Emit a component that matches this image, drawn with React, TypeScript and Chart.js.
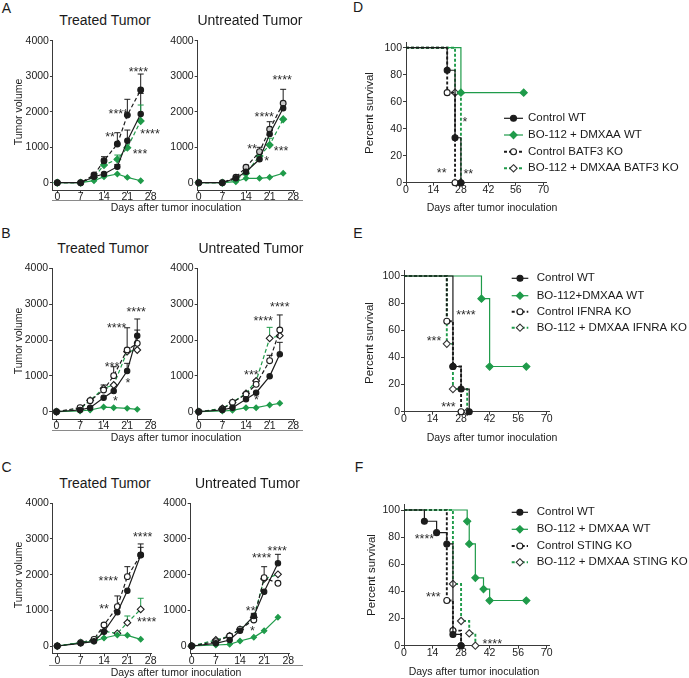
import React, { useEffect, useRef } from 'react';
import { Chart, registerables } from 'chart.js';

Chart.register(...registerables);

const FONT = '"Liberation Sans", Arial, Helvetica, sans-serif';
Chart.defaults.font.family = FONT;
Chart.defaults.color = '#222222';

const INK = '#1c1c1c';
const GREEN = '#1f9b4a';
const AXIS = '#3a3a3a';
const TICK_FONT = 10.5;

// ---------- tick labels ----------
const tumorXTicks = [0, 7, 14, 21, 28];
const tumorYTicks = [0, 1000, 2000, 3000, 4000];
const survXTicks = [0, 14, 28, 42, 56, 70];
const survYTicks = [0, 20, 40, 60, 80, 100];

// ---------- tumor growth (days after inoculation) ----------
const daysAC = [0, 7, 11, 14, 18, 21, 25];
const daysB = [0, 7, 10, 14, 17, 21, 24];

// A – treated tumor
const aTrCtrlWT = [0, 0, 169, 245, 451, 1183, 1935];
const aTrCtrlWTErr = [0, 0, 0, 0, 60, 300, 580];
const aTrBoWT = [0, 0, 56, 169, 245, 150, 56];
const aTrCtrlKO = [0, 0, 217, 620, 1090, 1904, 2611];
const aTrCtrlKOErr = [0, 0, 0, 112, 318, 445, 450];
const aTrBoKO = [0, 0, 150, 499, 659, 986, 1738];
const aTrBoKOErr = [0, 0, 0, 0, 120, 0, 450];
// A – untreated tumor
const aUnCtrlWT = [0, 0, 124, 310, 659, 1372, 2096];
const aUnBoWT = [0, 0, 28, 124, 124, 152, 265];
const aUnCtrlKO = [0, 0, 152, 434, 873, 1504, 2237];
const aUnCtrlKOErr = [0, 0, 0, 0, 124, 214, 394];
const aUnBoKO = [0, 0, 96, 265, 752, 1062, 1786];
const aUnBoKOErr = [0, 0, 0, 0, 0, 190, 0];
// B – treated tumor
const bTrCtrlWT = [0, 47, 112, 391, 577, 1135, 2121];
const bTrCtrlWTErr = [0, 0, 0, 0, 0, 214, 465];
const bTrBoWT = [0, 19, 47, 130, 112, 93, 65];
const bTrCtrlKO = [0, 112, 307, 605, 1005, 1721, 1907];
const bTrCtrlKOErr = [0, 0, 0, 140, 250, 620, 370];
const bTrBoKO = [0, 74, 316, 651, 744, 1674, 1721];
// B – untreated tumor
const bUnCtrlWT = [0, 47, 112, 344, 530, 986, 1600];
const bUnCtrlWTErr = [0, 0, 0, 0, 0, 0, 335];
const bUnBoWT = [0, 19, 37, 112, 112, 186, 233];
const bUnCtrlKO = [0, 74, 260, 484, 763, 1423, 2279];
const bUnCtrlKOErr = [0, 0, 0, 0, 120, 150, 420];
const bUnBoKO = [0, 93, 260, 512, 856, 2047, 2121];
const bUnBoKOErr = [0, 0, 0, 0, 0, 306, 0];
// C – treated tumor
const cTrCtrlWT = [0, 75, 131, 402, 944, 1551, 2551];
const cTrCtrlWTErr = [0, 0, 0, 0, 0, 0, 310];
const cTrBoWT = [0, 93, 131, 224, 308, 299, 187];
const cTrCtrlKO = [0, 93, 187, 589, 1103, 1944, 2551];
const cTrCtrlKOErr = [0, 0, 0, 0, 300, 280, 215];
const cTrBoKO = [0, 93, 168, 411, 355, 654, 1028];
const cTrBoKOErr = [0, 0, 0, 0, 0, 187, 310];
// C – untreated tumor
const cUnCtrlWT = [0, 75, 168, 430, 841, 1522, 2317];
const cUnCtrlWTErr = [0, 0, 0, 0, 75, 0, 253];
const cUnBoWT = [0, 28, 47, 140, 243, 430, 804];
const cUnCtrlKO = [0, 121, 280, 467, 729, 1915, 1757];
const cUnCtrlKOErr = [0, 0, 0, 0, 0, 308, 0];
const cUnBoKO = [0, 168, 280, 467, 804, 1880, 2009];

// significance marks [day, value, label]
type Star = [number, number, string];
const aTrStars: Star[] = [[24.3, 3200, '****'], [18.3, 2030, '****'], [15.8, 1370, '**'], [27.8, 1465, '****'], [24.8, 900, '***']];
const aUnStars: Star[] = [[24.7, 2990, '****'], [19.4, 1930, '****'], [15.8, 1040, '**'], [20.1, 690, '*'], [24.4, 970, '***']];
const bTrStars: Star[] = [[23.7, 2880, '****'], [17.9, 2420, '****'], [16.5, 1350, '***'], [21.2, 900, '*'], [17.5, 390, '*']];
const bUnStars: Star[] = [[24.0, 3010, '****'], [19.1, 2620, '****'], [15.6, 1120, '***'], [17.1, 420, '*']];
const cTrStars: Star[] = [[25.6, 3140, '****'], [15.3, 1900, '****'], [14.0, 1130, '**'], [26.8, 760, '****']];
const cUnStars: Star[] = [[24.8, 2740, '****'], [20.3, 2550, '****'], [17.1, 1080, '**'], [17.6, 500, '*']];

// ---------- survival ----------
const dCtrlWTDays = [0, 21, 25, 28];
const dCtrlWTSurv = [100, 83.3, 33.3, 0];
const dBoWTDays = [0, 28, 60];
const dBoWTSurv = [100, 66.7, 66.7];
const dCtrlKODays = [0, 21, 25];
const dCtrlKOSurv = [100, 66.7, 0];
const dBoKODays = [0, 25, 28];
const dBoKOSurv = [100, 66.7, 0];
const dStars: Star[] = [[30.1, 47.7, '*'], [18.2, 9.4, '**'], [31.8, 8.6, '**']];
const dLegend = ['Control WT', 'BO-112 + DMXAA WT', 'Control BATF3 KO', 'BO-112 + DMXAA BATF3 KO'];

const eCtrlWTDays = [0, 24, 28, 32];
const eCtrlWTSurv = [100, 33.3, 16.7, 0];
const eBoWTDays = [0, 38, 42, 60];
const eBoWTSurv = [100, 83.3, 33.3, 33.3];
const eCtrlKODays = [0, 21, 24, 28];
const eCtrlKOSurv = [100, 66.7, 33.3, 0];
const eBoKODays = [0, 21, 24, 31];
const eBoKOSurv = [100, 50, 16.7, 0];
const eStars: Star[] = [[30.4, 73.7, '****'], [14.7, 54.8, '***'], [21.8, 5.7, '***']];
const eLegend = ['Control WT', 'BO-112+DMXAA WT', 'Control IFNRA KO', 'BO-112 + DMXAA IFNRA KO'];

const fCtrlWTDays = [0, 10, 16, 21, 24, 28];
const fCtrlWTSurv = [100, 91.7, 83.3, 75, 8.3, 0];
const fBoWTDays = [0, 31, 32, 35, 39, 42, 60];
const fBoWTSurv = [100, 91.7, 75, 50, 41.7, 33.3, 33.3];
const fCtrlKODays = [0, 21, 24, 28];
const fCtrlKOSurv = [100, 33.3, 11.1, 0];
const fBoKODays = [0, 24, 28, 32, 35];
const fBoKOSurv = [100, 45.5, 18.2, 9.1, 0];
const fStars: Star[] = [[10, 81, '****'], [14.4, 38, '***'], [43.3, 3.4, '****']];
const fLegend = ['Control WT', 'BO-112 + DMXAA WT', 'Control STING KO', 'BO-112 + DMXAA STING KO'];

// ---------- styles ----------
type Kind = 'ctrlWT' | 'boWT' | 'ctrlKO' | 'boKO';
const KINDS: Kind[] = ['ctrlWT', 'boWT', 'ctrlKO', 'boKO'];

const TSTYLE: Record<Kind, any> = {
  ctrlWT: { color: INK, dash: [], marker: 'circle', r: 2.7, edge: INK },
  boWT: { color: GREEN, dash: [], marker: 'rectRot', r: 2.7, edge: GREEN },
  ctrlKO: { color: INK, dash: [4, 2.5], marker: 'circle', r: 2.9, edge: INK },
  boKO: { color: GREEN, dash: [4, 2.5], marker: 'rectRot', r: 3.4, edge: INK },
};

const SSTYLE: Record<Kind, any> = {
  ctrlWT: { color: INK, dash: [], width: 1.2, marker: 'circle', r: 3, open: false, edge: INK },
  boWT: { color: GREEN, dash: [], width: 1.2, marker: 'rectRot', r: 3.6, open: false, edge: GREEN },
  ctrlKO: { color: INK, dash: [3, 2], width: 1.9, marker: 'circle', r: 3, open: true, edge: INK },
  boKO: { color: GREEN, dash: [3, 2], width: 1.9, marker: 'rectRot', r: 3.6, open: true, edge: '#333' },
};

function tumorSet(days: number[], vals: number[], kind: Kind, errs?: number[], fill?: string) {
  const st = TSTYLE[kind];
  const edge = fill && fill !== '#ffffff' ? st.color : st.edge;
  return {
    data: days.map((d, i) => ({ x: d, y: vals[i] })),
    errors: errs,
    borderColor: st.color,
    borderWidth: 1.2,
    borderDash: st.dash,
    pointStyle: st.marker,
    pointRadius: st.r,
    pointBackgroundColor: fill ?? st.color,
    pointBorderColor: edge,
    pointBorderWidth: 1.1,
    fill: false,
    tension: 0,
    clip: false,
  };
}

function survSet(days: number[], surv: number[], kind: Kind) {
  const st = SSTYLE[kind];
  return {
    data: days.map((d, i) => ({ x: d, y: surv[i] })),
    stepped: 'before',
    borderColor: st.color,
    borderWidth: st.width,
    borderDash: st.dash,
    pointStyle: st.marker,
    pointRadius: days.map((_, i) => (i === 0 ? 0 : st.r)),
    pointBackgroundColor: st.open ? '#ffffff' : st.color,
    pointBorderColor: st.edge,
    pointBorderWidth: 1.1,
    fill: false,
    clip: false,
  };
}

// ---------- plugins ----------
const errorBarPlugin = {
  id: 'errorBars',
  beforeDatasetsDraw(chart: any) {
    const ctx = chart.ctx;
    const ys = chart.scales.y;
    chart.data.datasets.forEach((ds: any, i: number) => {
      const errs: number[] | undefined = ds.errors;
      if (!errs) return;
      const meta = chart.getDatasetMeta(i);
      ctx.save();
      ctx.strokeStyle = ds.borderColor;
      ctx.lineWidth = 1;
      ctx.setLineDash([]);
      meta.data.forEach((pt: any, j: number) => {
        const e = errs[j];
        if (!e) return;
        const top = ys.getPixelForValue(ds.data[j].y + e);
        ctx.beginPath();
        ctx.moveTo(pt.x, pt.y);
        ctx.lineTo(pt.x, top);
        ctx.moveTo(pt.x - 3, top);
        ctx.lineTo(pt.x + 3, top);
        ctx.stroke();
      });
      ctx.restore();
    });
  },
};

function starsPlugin(stars: Star[]) {
  return {
    id: 'stars',
    afterDatasetsDraw(chart: any) {
      const { ctx, scales } = chart;
      ctx.save();
      ctx.fillStyle = '#2a2a2a';
      ctx.font = `12.5px ${FONT}`;
      ctx.textAlign = 'center';
      ctx.textBaseline = 'alphabetic';
      stars.forEach(([x, y, s]) => {
        ctx.fillText(s, scales.x.getPixelForValue(x), scales.y.getPixelForValue(y) + 7.2);
      });
      ctx.restore();
    },
  };
}

function drawMarker(ctx: CanvasRenderingContext2D, marker: string, x: number, y: number, r: number, fill: string, edge: string) {
  ctx.beginPath();
  if (marker === 'circle') {
    ctx.arc(x, y, r, 0, Math.PI * 2);
  } else {
    ctx.moveTo(x, y - r);
    ctx.lineTo(x + r, y);
    ctx.lineTo(x, y + r);
    ctx.lineTo(x - r, y);
    ctx.closePath();
  }
  ctx.fillStyle = fill;
  ctx.fill();
  ctx.lineWidth = 1.1;
  ctx.strokeStyle = edge;
  ctx.stroke();
}

type Frame = { cx: number; cy: number; cw: number; ch: number; yW: number; xH: number; padT: number; padR: number };

function legendPlugin(labels: string[], fr: Frame, sx1: number, sx2: number, tx: number, ys: number[]) {
  return {
    id: 'survLegend',
    afterDraw(chart: any) {
      const ctx: CanvasRenderingContext2D = chart.ctx;
      labels.forEach((label, i) => {
        const st = SSTYLE[KINDS[i]];
        const y = ys[i] - fr.cy;
        const a = sx1 - fr.cx;
        const b = sx2 - fr.cx;
        ctx.save();
        ctx.strokeStyle = st.color;
        ctx.lineWidth = st.width;
        ctx.setLineDash(st.dash);
        ctx.beginPath();
        ctx.moveTo(a, y);
        ctx.lineTo(b, y);
        ctx.stroke();
        ctx.setLineDash([]);
        drawMarker(ctx, st.marker, (a + b) / 2, y, st.r, st.open ? '#ffffff' : st.color, st.edge);
        ctx.fillStyle = '#1a1a1a';
        ctx.font = `11.5px ${FONT}`;
        ctx.textAlign = 'left';
        ctx.textBaseline = 'middle';
        ctx.fillText(label, tx - fr.cx, y);
        ctx.restore();
      });
    },
  };
}

// ---------- geometry ----------
function makeFrame(l: number, r: number, t: number, b: number, yW0: number, xH0: number, padT0: number, padR0: number): Frame {
  const cx = Math.floor(l - yW0);
  const cy = Math.floor(t - padT0);
  const cw = Math.ceil(r + padR0 - cx);
  const ch = Math.ceil(b + xH0 - cy);
  return { cx, cy, cw, ch, yW: l - cx, padT: t - cy, padR: cx + cw - r, xH: cy + ch - b };
}

function axisOptions(fr: Frame, xMin: number, xMax: number, yMin: number, yMax: number, xTicks: number[], yTicks: number[]) {
  const tickFont = { size: TICK_FONT, family: FONT };
  return {
    x: {
      type: 'linear',
      min: xMin,
      max: xMax,
      afterBuildTicks: (s: any) => { s.ticks = xTicks.map((v) => ({ value: v })); },
      afterFit: (s: any) => { s.height = fr.xH; },
      grid: { display: true, drawOnChartArea: false, drawTicks: true, tickLength: 3, color: AXIS, lineWidth: 1 },
      border: { display: true, color: AXIS, width: 1 },
      ticks: { padding: -2, color: '#222', font: tickFont, maxRotation: 0, autoSkip: false, callback: (v: any) => String(v) },
    },
    y: {
      type: 'linear',
      min: yMin,
      max: yMax,
      afterBuildTicks: (s: any) => { s.ticks = yTicks.map((v) => ({ value: v })); },
      afterFit: (s: any) => { s.width = fr.yW; },
      grid: { display: true, drawOnChartArea: false, drawTicks: true, tickLength: 3, color: AXIS, lineWidth: 1 },
      border: { display: true, color: AXIS, width: 1 },
      ticks: { padding: 1, color: '#222', font: tickFont, autoSkip: false, callback: (v: any) => String(v) },
    },
  };
}

type Spec = { key: string; fr: Frame; make: () => any };

function tumorSpec(key: string, x0: number, x28: number, y0: number, y4k: number, xMin: number, datasets: () => any[], stars: Star[]): Spec {
  const xMax = 28.3;
  const yMin = -210;
  const yMax = 4000;
  const kx = (x28 - x0) / 28;
  const ky = (y0 - y4k) / 4000;
  const fr = makeFrame(x0 + xMin * kx, x0 + xMax * kx, y0 - yMax * ky, y0 - yMin * ky, 40, 20, 10, 16);
  return {
    key,
    fr,
    make: () => ({
      type: 'line',
      data: { datasets: datasets() },
      options: {
        responsive: false,
        animation: false,
        events: [],
        layout: { padding: { top: fr.padT, right: fr.padR, left: 0, bottom: 0 } },
        plugins: { legend: { display: false }, tooltip: { enabled: false } },
        scales: axisOptions(fr, xMin, xMax, yMin, yMax, tumorXTicks, tumorYTicks),
      },
      plugins: [errorBarPlugin, starsPlugin(stars)],
    }),
  };
}

function survSpec(key: string, x0: number, x70: number, y0: number, y100: number, datasets: () => any[], stars: Star[], labels: string[], lx1: number, lx2: number, ltx: number, lys: number[]): Spec {
  const xMax = 71.5;
  const yMax = 104;
  const kx = (x70 - x0) / 70;
  const ky = (y0 - y100) / 100;
  const r = x0 + xMax * kx;
  const fr = makeFrame(x0, r, y0 - yMax * ky, y0, 35, 20, 10, 689 - r);
  return {
    key,
    fr,
    make: () => ({
      type: 'line',
      data: { datasets: datasets() },
      options: {
        responsive: false,
        animation: false,
        events: [],
        layout: { padding: { top: fr.padT, right: fr.padR, left: 0, bottom: 0 } },
        plugins: { legend: { display: false }, tooltip: { enabled: false } },
        scales: axisOptions(fr, 0, xMax, 0, yMax, survXTicks, survYTicks),
      },
      plugins: [starsPlugin(stars), legendPlugin(labels, fr, lx1, lx2, ltx, lys)],
    }),
  };
}

const WHITE = '#ffffff';

const specs: Spec[] = [
  tumorSpec('aTr', 57.3, 150.7, 182.7, 40.7, -1.3, () => [
    tumorSet(daysAC, aTrCtrlWT, 'ctrlWT', aTrCtrlWTErr),
    tumorSet(daysAC, aTrBoWT, 'boWT'),
    tumorSet(daysAC, aTrCtrlKO, 'ctrlKO', aTrCtrlKOErr, INK),
    tumorSet(daysAC, aTrBoKO, 'boKO', aTrBoKOErr, GREEN),
  ], aTrStars),
  tumorSpec('aUn', 198.7, 293.3, 182.7, 40.7, -0.3, () => [
    tumorSet(daysAC, aUnCtrlWT, 'ctrlWT'),
    tumorSet(daysAC, aUnBoWT, 'boWT'),
    tumorSet(daysAC, aUnCtrlKO, 'ctrlKO', aUnCtrlKOErr, '#c8c8c8'),
    tumorSet(daysAC, aUnBoKO, 'boKO', aUnBoKOErr, GREEN),
  ], aUnStars),
  tumorSpec('bTr', 56.5, 150.7, 411.7, 268.3, -1.3, () => [
    tumorSet(daysB, bTrCtrlWT, 'ctrlWT', bTrCtrlWTErr),
    tumorSet(daysB, bTrBoWT, 'boWT'),
    tumorSet(daysB, bTrCtrlKO, 'ctrlKO', bTrCtrlKOErr, WHITE),
    tumorSet(daysB, bTrBoKO, 'boKO', undefined, WHITE),
  ], bTrStars),
  tumorSpec('bUn', 198.7, 293.3, 411.7, 268.3, -0.3, () => [
    tumorSet(daysB, bUnCtrlWT, 'ctrlWT', bUnCtrlWTErr),
    tumorSet(daysB, bUnBoWT, 'boWT'),
    tumorSet(daysB, bUnCtrlKO, 'ctrlKO', bUnCtrlKOErr, WHITE),
    tumorSet(daysB, bUnBoKO, 'boKO', bUnBoKOErr, WHITE),
  ], bUnStars),
  tumorSpec('cTr', 57.3, 150.7, 646, 503.3, -1.3, () => [
    tumorSet(daysAC, cTrCtrlWT, 'ctrlWT', cTrCtrlWTErr),
    tumorSet(daysAC, cTrBoWT, 'boWT'),
    tumorSet(daysAC, cTrCtrlKO, 'ctrlKO', cTrCtrlKOErr, WHITE),
    tumorSet(daysAC, cTrBoKO, 'boKO', cTrBoKOErr, WHITE),
  ], cTrStars),
  tumorSpec('cUn', 191.7, 288.3, 646, 503.3, -0.3, () => [
    tumorSet(daysAC, cUnCtrlWT, 'ctrlWT', cUnCtrlWTErr),
    tumorSet(daysAC, cUnBoWT, 'boWT'),
    tumorSet(daysAC, cUnCtrlKO, 'ctrlKO', cUnCtrlKOErr, WHITE),
    tumorSet(daysAC, cUnBoKO, 'boKO', undefined, WHITE),
  ], cUnStars),
  survSpec('d', 406, 543.3, 182.7, 47.7, () => [
    survSet(dCtrlWTDays, dCtrlWTSurv, 'ctrlWT'),
    survSet(dBoWTDays, dBoWTSurv, 'boWT'),
    survSet(dCtrlKODays, dCtrlKOSurv, 'ctrlKO'),
    survSet(dBoKODays, dBoKOSurv, 'boKO'),
  ], dStars, dLegend, 504, 523, 528, [118.3, 135, 151.7, 168.3]),
  survSpec('e', 404, 546.7, 411.7, 276, () => [
    survSet(eCtrlWTDays, eCtrlWTSurv, 'ctrlWT'),
    survSet(eBoWTDays, eBoWTSurv, 'boWT'),
    survSet(eCtrlKODays, eCtrlKOSurv, 'ctrlKO'),
    survSet(eBoKODays, eBoKOSurv, 'boKO'),
  ], eStars, eLegend, 511.7, 528.3, 536.7, [278.3, 295.7, 311.7, 327.7]),
  survSpec('f', 404, 546.7, 645.7, 510, () => [
    survSet(fCtrlWTDays, fCtrlWTSurv, 'ctrlWT'),
    survSet(fBoWTDays, fBoWTSurv, 'boWT'),
    survSet(fCtrlKODays, fCtrlKOSurv, 'ctrlKO'),
    survSet(fBoKODays, fBoKOSurv, 'boKO'),
  ], fStars, fLegend, 511.7, 528, 536.7, [512.3, 529.3, 546, 562.3]),
];

type Txt = { t: string; x: number; y: number; s: number; rot?: number };
const texts: Txt[] = [
  { t: 'A', x: 6.5, y: 8, s: 14 },
  { t: 'B', x: 6, y: 233, s: 14 },
  { t: 'C', x: 6.5, y: 466.7, s: 14 },
  { t: 'D', x: 358, y: 7, s: 14 },
  { t: 'E', x: 358, y: 233, s: 14 },
  { t: 'F', x: 359, y: 466.7, s: 14 },
  { t: 'Treated Tumor', x: 105, y: 20, s: 14 },
  { t: 'Untreated Tumor', x: 250, y: 20, s: 14 },
  { t: 'Treated Tumor', x: 103, y: 248.3, s: 14 },
  { t: 'Untreated Tumor', x: 251, y: 248.3, s: 14 },
  { t: 'Treated Tumor', x: 105, y: 483.3, s: 14 },
  { t: 'Untreated Tumor', x: 247.5, y: 483.3, s: 14 },
  { t: 'Tumor volume', x: 17.5, y: 112, s: 10.5, rot: -90 },
  { t: 'Tumor volume', x: 18, y: 341, s: 10.5, rot: -90 },
  { t: 'Tumor volume', x: 18, y: 575, s: 10.5, rot: -90 },
  { t: 'Percent survival', x: 370, y: 113, s: 11.5, rot: -90 },
  { t: 'Percent survival', x: 370, y: 343, s: 11.5, rot: -90 },
  { t: 'Percent survival', x: 372, y: 575, s: 11.5, rot: -90 },
  { t: 'Days after tumor inoculation', x: 176, y: 207, s: 10.5 },
  { t: 'Days after tumor inoculation', x: 176, y: 437, s: 10.5 },
  { t: 'Days after tumor inoculation', x: 176, y: 672, s: 10.5 },
  { t: 'Days after tumor inoculation', x: 492, y: 207, s: 10.5 },
  { t: 'Days after tumor inoculation', x: 492, y: 437, s: 10.5 },
  { t: 'Days after tumor inoculation', x: 474, y: 671, s: 10.5 },
];

const rules = [
  { x1: 52, x2: 303, y: 200 },
  { x1: 52, x2: 303, y: 430 },
  { x1: 49, x2: 303, y: 665 },
];

function ChartCanvas({ spec }: { spec: Spec }) {
  const ref = useRef<HTMLCanvasElement>(null);
  useEffect(() => {
    if (!ref.current) return;
    const chart = new Chart(ref.current, spec.make());
    return () => chart.destroy();
  }, [spec]);
  const { fr } = spec;
  return (
    <canvas
      ref={ref}
      width={fr.cw}
      height={fr.ch}
      style={{ position: 'absolute', left: fr.cx, top: fr.cy, width: fr.cw, height: fr.ch }}
    />
  );
}

export default function App() {
  return (
    <div
      style={{
        position: 'absolute',
        left: 0,
        top: 0,
        width: 689,
        height: 678,
        background: '#ffffff',
        overflow: 'hidden',
        fontFamily: FONT,
        color: '#1a1a1a',
      }}
    >
      {specs.map((s) => (
        <ChartCanvas key={s.key} spec={s} />
      ))}
      {rules.map((r, i) => (
        <div
          key={'r' + i}
          style={{ position: 'absolute', left: r.x1, top: r.y, width: r.x2 - r.x1, height: 1, background: '#8a8a8a' }}
        />
      ))}
      {texts.map((t, i) => (
        <div
          key={'t' + i}
          style={{
            position: 'absolute',
            left: t.x,
            top: t.y,
            transform: `translate(-50%, -50%)${t.rot ? ` rotate(${t.rot}deg)` : ''}`,
            fontSize: t.s,
            lineHeight: 1,
            whiteSpace: 'nowrap',
          }}
        >
          {t.t}
        </div>
      ))}
    </div>
  );
}
